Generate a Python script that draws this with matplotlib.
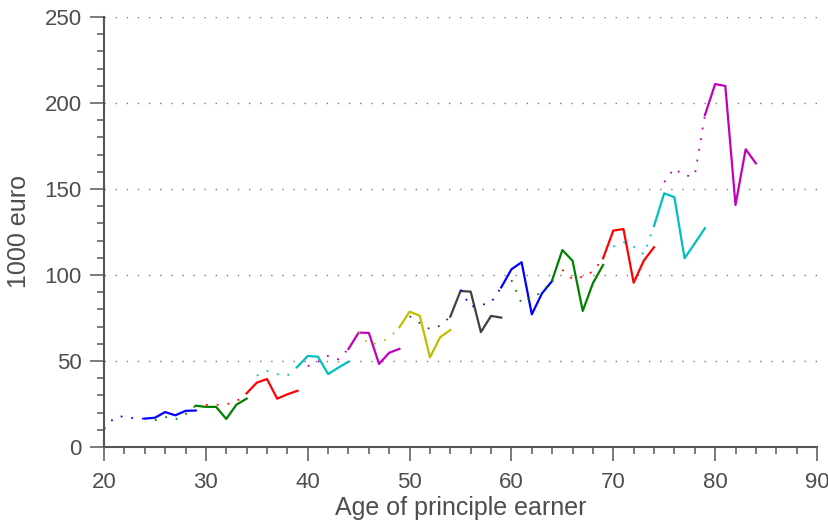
import numpy as np
import matplotlib.pyplot as plt
from matplotlib.pyplot import MultipleLocator

plt.rcParams['font.family'] = ['Liberation Sans', 'DejaVu Sans']

# first age of each solid segment (6 ages each), dotted runs over the 4 ages before it
solid_start = [24, 29, 34, 39, 44, 49, 54, 59, 64, 69, 74, 79]
colors = ['b', 'g', 'r', 'c', 'm', 'y', 'k', 'b', 'g', 'r', 'c', 'm']

solid_vals = [
    [16.5, 17.0, 20.3, 18.4, 21.0, 21.2],
    [24.0, 23.3, 23.3, 16.3, 24.6, 28.1],
    [31.2, 37.4, 39.5, 28.1, 30.6, 32.7],
    [46.7, 52.9, 52.5, 42.4, 46.1, 49.6],
    [57.0, 66.5, 66.3, 48.3, 54.8, 57.0],
    [69.6, 78.7, 76.3, 52.1, 63.8, 68.0],
    [75.8, 90.7, 90.3, 66.8, 76.2, 75.2],
    [92.8, 103.3, 107.4, 77.1, 89.3, 96.5],
    [97.0, 114.5, 108.3, 79.1, 95.2, 105.8],
    [109.7, 125.8, 126.7, 95.5, 108.4, 116.1],
    [128.5, 147.5, 145.2, 109.7, 118.4, 127.2],
    [193.0, 211.0, 209.9, 140.7, 173.1, 164.9],
]

dotted_vals = [
    [10.5, 17.0, 18.0, 16.5, 16.5],
    [15.5, 17.5, 16.0, 19.0, 24.0],
    [24.5, 24.5, 24.8, 26.5, 31.2],
    [41.5, 44.2, 42.3, 41.5, 46.7],
    [47.0, 49.5, 53.0, 51.0, 57.0],
    [67.0, 59.5, 60.5, 63.5, 69.6],
    [76.0, 72.0, 68.5, 70.5, 75.8],
    [91.5, 81.5, 82.5, 84.0, 92.8],
    [97.0, 83.5, 87.0, 90.0, 97.0],
    [103.0, 97.5, 99.0, 102.0, 109.7],
    [116.5, 119.0, 116.5, 112.0, 128.5],
    [154.0, 162.0, 157.5, 158.0, 193.0],
]

col = {'b': '#0000ff', 'g': '#008000', 'r': '#ff0000', 'c': '#00bfbf',
       'm': '#bf00bf', 'y': '#bfbf00', 'k': '#404040'}

fig = plt.figure(figsize=(8.29, 5.24), dpi=100)
ax = fig.add_axes([0.1255, 0.147, 0.86, 0.8206])

for a, c, sv, dv in zip(solid_start, colors, solid_vals, dotted_vals):
    ages_d = np.arange(a - 4, a + 1)
    ages_s = np.arange(a, a + 6)
    ax.plot(ages_d, dv, color=col[c], lw=1.3, linestyle=(0, (1, 5)))
    ax.plot(ages_s, sv, color=col[c], lw=1.6)

ax.axis([20, 90, 0, 250])
for y in [50, 100, 150, 200, 250]:
    ax.axhline(y, color='#777777', lw=1, linestyle=(0, (1, 7)), zorder=0)

ax.xaxis.set_major_locator(MultipleLocator(10))
ax.xaxis.set_minor_locator(MultipleLocator(2))
ax.yaxis.set_major_locator(MultipleLocator(50))
ax.yaxis.set_minor_locator(MultipleLocator(10))
ax.tick_params(which='major', length=10, width=1.1, color='#555555',
               labelsize=16, labelcolor='#4d4d4d', direction='out', pad=6)
ax.tick_params(which='minor', length=5, width=1.1, color='#555555', direction='out')
ax.tick_params(axis='x', which='major', pad=8)

for s in ['top', 'right']:
    ax.spines[s].set_visible(False)
for s in ['left', 'bottom']:
    ax.spines[s].set_color('#555555')
    ax.spines[s].set_linewidth(1.5)

ax.set_xlabel('Age of principle earner', fontsize=18, color='#4d4d4d', labelpad=2)
ax.set_ylabel('1000 euro', fontsize=18, color='#4d4d4d', labelpad=10)

plt.savefig('out.png', dpi=100)
